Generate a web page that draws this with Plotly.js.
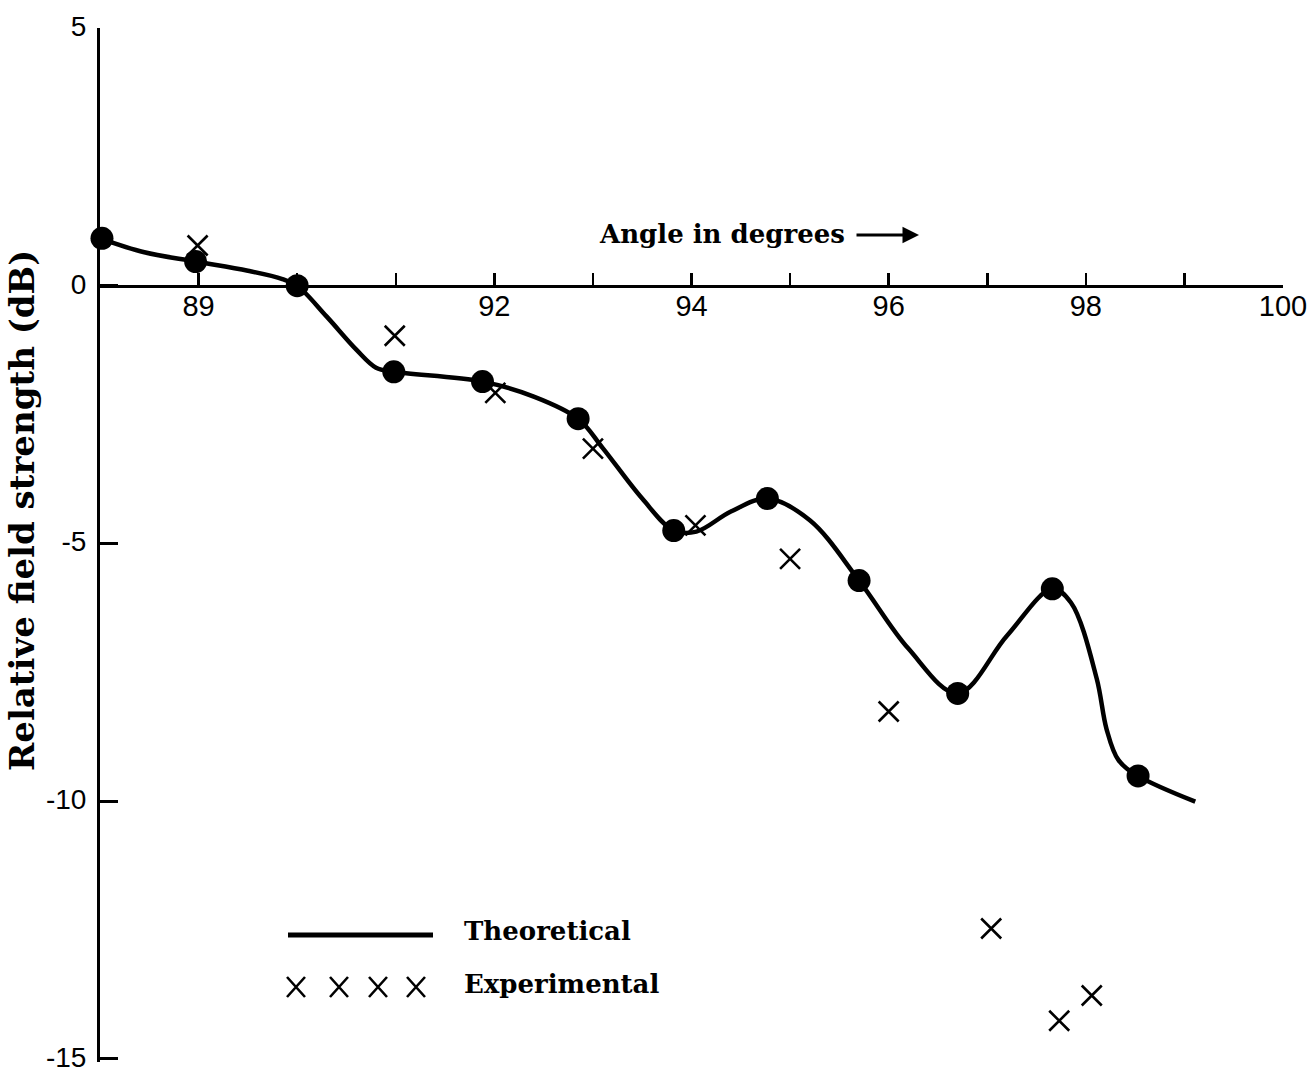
<!DOCTYPE html>
<html>
<head>
<meta charset="utf-8">
<script src="https://cdn.plot.ly/plotly-3.0.1.min.js"></script>
<style>html,body{margin:0;padding:0;background:#fff}</style>
</head>
<body>
<div id="chart" style="width:1310px;height:1073px"></div>
<script>
// Theoretical curve: angle (degrees) vs relative field strength (dB)
const curveAngle = [88.0, 88.45, 88.97, 89.5, 89.85, 90.0, 90.3, 90.6, 90.8, 90.98, 91.88, 92.4, 92.85,
  93.1, 93.5, 93.82, 94.05, 94.4, 94.77, 95.2, 95.70, 96.2, 96.70, 97.2, 97.66, 97.85, 98.11,
  98.21, 98.33, 98.53, 99.11];
const curveField = [0.92, 0.65, 0.47, 0.29, 0.13, 0.0, -0.6, -1.24, -1.59, -1.67, -1.86, -2.15, -2.58,
  -3.15, -4.13, -4.75, -4.77, -4.38, -4.13, -4.55, -5.72, -7.04, -7.91, -6.79, -5.88, -6.15, -7.62,
  -8.6, -9.2, -9.51, -10.01];

// Computed theoretical points (filled dots on the curve)
const pointAngle = [88.02, 88.97, 90.0, 90.98, 91.88, 92.85, 93.82, 94.77, 95.70, 96.70, 97.66, 98.53];
const pointField = [0.92, 0.47, 0.0, -1.67, -1.86, -2.58, -4.75, -4.13, -5.72, -7.91, -5.88, -9.51];

// Measured values
const expAngle = [88.99, 90.99, 92.01, 93.0, 94.04, 95.0, 96.0, 97.04, 97.73, 98.06];
const expField = [0.78, -0.97, -2.08, -3.16, -4.65, -5.30, -8.26, -12.47, -14.26, -13.77];

// Axis ticks
const angleTicks = [89, 90, 91, 92, 93, 94, 95, 96, 97, 98, 99, 100];
const angleTickText = ['89', '', '', '92', '', '94', '', '96', '', '98', '', '100'];
const fieldTicks = [5, 0, -5, -10, -15];
const fieldTickText = ['5', '0', '-5', '-10', '-15'];

const angleRange = [88, 100];
const fieldRange = [-15.06, 5.0];

const W = 1310, H = 1073;
const M = {l: 100, r: 27, t: 28, b: 11};
// pixel position -> paper fraction
const fx = p => (p - M.l) / (W - M.l - M.r);
const fy = p => (H - M.b - p) / (H - M.t - M.b);

const serif = {family: 'DejaVu Serif', size: 26, color: '#000', weight: 'bold'};
const serifTall = {family: 'DejaVu Serif', size: 34, color: '#000', weight: 'bold'};
const tickFont = {family: 'Liberation Sans', size: 29, color: '#000'};
const yTickFont = {family: 'Liberation Sans', size: 28, color: '#000'};

const traces = [
  {x: curveAngle, y: curveField, mode: 'lines', type: 'scatter',
   line: {color: '#000', width: 4.5, shape: 'spline', smoothing: 1.0}, cliponaxis: false, hoverinfo: 'skip'},
  {x: pointAngle, y: pointField, mode: 'markers', type: 'scatter',
   marker: {color: '#000', size: 23, symbol: 'circle'}, cliponaxis: false},
  {x: expAngle, y: expField, mode: 'markers', type: 'scatter',
   marker: {symbol: 'x-thin', size: 20, color: '#000', line: {color: '#000', width: 2.6}}, cliponaxis: false}
];

// Legend drawn by hand: long line sample and a row of four crosses
const shapes = [
  {type: 'line', xref: 'paper', yref: 'paper', x0: fx(288), x1: fx(433), y0: fy(935), y1: fy(935),
   line: {color: '#000', width: 5}}
];
[296, 339, 378, 416].forEach(cx => {
  const cy = 987, hw = 9, hh = 10;
  shapes.push({type: 'path', xref: 'paper', yref: 'paper',
    path: `M ${fx(cx - hw)},${fy(cy - hh)} L ${fx(cx + hw)},${fy(cy + hh)} M ${fx(cx - hw)},${fy(cy + hh)} L ${fx(cx + hw)},${fy(cy - hh)}`,
    line: {color: '#000', width: 2.6}});
});

const annotations = [
  {text: 'Angle in degrees', xref: 'paper', yref: 'paper', x: fx(597), y: fy(234),
   xanchor: 'left', yanchor: 'middle', showarrow: false, font: serif},
  {text: '', xref: 'paper', yref: 'paper', x: fx(919), y: fy(235), ax: -64, ay: 0,
   showarrow: true, arrowhead: 2, arrowsize: 1.1, arrowwidth: 3, arrowcolor: '#000'},
  {text: 'Relative field strength (dB)', xref: 'paper', yref: 'paper', x: fx(22), y: fy(511),
   xanchor: 'center', yanchor: 'middle', textangle: -90, showarrow: false, font: serifTall},
  {text: 'Theoretical', xref: 'paper', yref: 'paper', x: fx(462), y: fy(931),
   xanchor: 'left', yanchor: 'middle', showarrow: false, font: serif},
  {text: 'Experimental', xref: 'paper', yref: 'paper', x: fx(462), y: fy(984),
   xanchor: 'left', yanchor: 'middle', showarrow: false, font: serif}
];

const layout = {
  width: W, height: H,
  margin: M,
  paper_bgcolor: '#fff', plot_bgcolor: '#fff',
  showlegend: false,
  xaxis: {
    range: angleRange, showgrid: false, zeroline: false,
    showline: true, linecolor: '#000', linewidth: 3,
    ticks: 'inside', ticklen: 12, tickwidth: 2.5, tickcolor: '#000',
    tickvals: angleTicks, ticktext: angleTickText, tickfont: tickFont,
    ticklabelstandoff: -7, ticklabeloverflow: 'allow',
    anchor: 'free', position: (0 - fieldRange[0]) / (fieldRange[1] - fieldRange[0])
  },
  yaxis: {
    range: fieldRange, showgrid: false, zeroline: false,
    showline: true, linecolor: '#000', linewidth: 3,
    ticks: 'inside', ticklen: 18, tickwidth: 3, tickcolor: '#000',
    tickvals: fieldTicks, ticktext: fieldTickText, tickfont: yTickFont,
    ticklabelstandoff: 5, ticklabeloverflow: 'allow', ticklabelshift: -2
  },
  shapes: shapes,
  annotations: annotations
};

Plotly.newPlot('chart', traces, layout, {displayModeBar: false, staticPlot: true});
</script>
</body>
</html>
